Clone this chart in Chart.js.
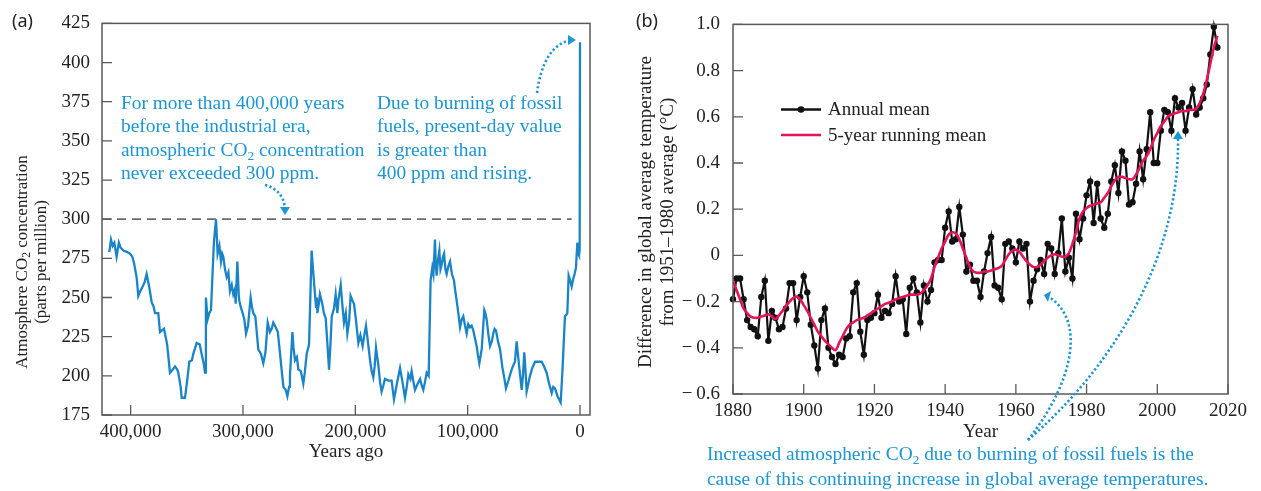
<!DOCTYPE html>
<html>
<head>
<meta charset="utf-8">
<script src="https://cdn.jsdelivr.net/npm/chart.js@4.4.1/dist/chart.umd.min.js"></script>
<style>
    body { margin: 0; width: 1261px; height: 491px; position: relative; background: #fff; overflow: hidden; font-family: "Liberation Serif", serif; color: #222; }
    canvas { position: absolute; top: 0; }
    #co2 { left: 0; }
    #temp { left: 620px; }
    .note { position: absolute; color: #1b95d3; font-size: 19.4px; line-height: 23.3px; white-space: nowrap; }
    .ytitle { position: absolute; text-align: center; white-space: nowrap; transform: translate(-50%, -50%) rotate(-90deg); }
    .panel { position: absolute; font-family: "Noto Sans", sans-serif; font-size: 18px; color: #222; }
    .legend { position: absolute; font-size: 19px; line-height: 22px; white-space: nowrap; }
    sub { font-size: 0.68em; vertical-align: -0.3em; line-height: 0; }
    svg { position: absolute; left: 0; top: 0; }
</style>
</head>
<body>
<canvas id="co2" width="620" height="491"></canvas>
<canvas id="temp" width="641" height="491"></canvas>

<div class="panel" style="left:12px; top:8px;">(a)</div>
<div class="panel" style="left:636px; top:8px;">(b)</div>

<div class="ytitle" style="left:31px; top:262px; font-size:17px; line-height:19px;">Atmosphere CO<sub>2</sub> concentration<br>(parts per million)</div>
<div class="ytitle" style="left:656px; top:212px; font-size:19px; line-height:22px;">Difference in global average temperature<br>from 1951–1980 average (°C)</div>

<div class="note" style="left:121px; top:91px;">For more than 400,000 years<br>before the industrial era,<br>atmospheric CO<sub>2</sub> concentration<br>never exceeded 300 ppm.</div>
<div class="note" style="left:377px; top:91px;">Due to burning of fossil<br>fuels, present-day value<br>is greater than<br>400 ppm and rising.</div>
<div class="note" style="left:707px; top:441px; line-height:25px;">Increased atmospheric CO<sub>2</sub> due to burning of fossil fuels is the<br>cause of this continuing increase in global average temperatures.</div>

<div class="legend" style="left:828px; top:98px;">Annual mean</div>
<div class="legend" style="left:828px; top:124px;">5-year running mean</div>

<svg width="1261" height="491">
    <g fill="none" stroke="#1b95d3" stroke-width="2.6" stroke-dasharray="2.2 2.4">
        <path d="M265,185 Q283,190 285,208"/>
        <path d="M537,93 Q543,47 570,40"/>
        <path d="M1028,440 C1075,380 1085,320 1049,297"/>
        <path d="M1028,440 C1110,370 1180,260 1178,138"/>
    </g>
    <g fill="#1b95d3">
        <path d="M280,207 L290,207 L285,215 Z"/>
        <path d="M568,35 L576,40 L568,45 Z"/>
        <path d="M1051,291 L1044,295 L1048,302 Z"/>
        <path d="M1173,139 L1183,139 L1178,131 Z"/>
    </g>
    <line x1="781" y1="109.5" x2="821" y2="109.5" stroke="#111" stroke-width="2.5"/>
    <circle cx="801" cy="109.5" r="3.3" fill="#111"/>
    <line x1="781" y1="135" x2="821" y2="135" stroke="#e4145c" stroke-width="2.5"/>
</svg>

<script>
// (a) ice core CO2, years before present
const co2YearsAgo = [
    419000, 417500, 416000, 414500, 412500, 410500, 409000, 406500, 403000, 400600,
    398500, 397000, 394700, 393200, 391500, 390000, 387500, 385800, 383500, 381300,
    379500, 378300, 375400, 373900, 370300, 367500, 365000, 362500, 360500, 358500,
    357600, 355500, 354600, 351600, 349500, 347800, 345500, 344200, 341200, 338500,
    336800, 335000, 333800, 333000, 331500, 330000, 328500, 326500, 325800, 324000,
    322600, 321000, 319600, 318500, 317500, 316000, 314500, 313000, 311600, 310000,
    308600, 307300, 306500, 305000, 303800, 303300, 302000, 300300, 298800, 297300,
    295500, 293200, 292000, 290800, 289000, 286400, 284000, 281900, 280000, 278000,
    276000, 274500, 273000, 271500, 269000, 267000, 265500, 264000, 262000, 260500,
    259000, 258200, 256000, 255000, 253700, 252000, 250700, 248500, 246300, 245000,
    243300, 241200, 238900, 237000, 235000, 234300, 233800, 232500, 231500, 229400,
    228000, 226400, 225000, 223400, 222000, 221000, 219000, 217500, 216000, 215100,
    213000, 211500, 210100, 208500, 207100, 205500, 204200, 202500, 201200, 199500,
    197300, 195500, 193500, 192000, 190500, 188500, 186900, 185500, 184000, 182800,
    181600, 180500, 179500, 178000, 176600, 175000, 173600, 170500, 167700, 165600,
    163000, 160200, 158000, 155800, 154000, 152800, 151000, 149900, 148500, 146900,
    144500, 142400, 141000, 139500, 138000, 136500, 134700, 133000, 131500, 130500,
    129100, 128300, 127600, 126400, 125200, 124200, 123100, 122000, 121000, 119800,
    118700, 117200, 115700, 114000, 112200, 111000, 109800, 108300, 106800, 105300,
    103900, 102300, 100900, 99500, 97900, 96500, 95000, 93500, 92000, 90800,
    89600, 87500, 85200, 84200, 83100, 81500, 80100, 78500, 77200, 76000,
    74800, 73000, 71200, 69000, 67500, 65900, 63700, 61700, 59800, 57900,
    56400, 54000, 51900, 50800, 49600, 48500, 47500, 46000, 44500, 42500,
    40000, 37000, 34100, 32000, 29700, 27500, 25200, 23800, 22300, 20000,
    17200, 15500, 13400, 12200, 11300, 10100, 8800, 7400, 6000, 4800,
    3600, 2400, 1500, 900, 300, 0
];
const co2Ppm = [
    279, 287, 283, 285, 276, 285, 282, 280, 279, 278,
    276, 272, 263, 251, 254, 256, 260, 265, 257, 247,
    244, 240, 240, 228, 230, 220, 202, 204, 206, 204,
    202, 193, 186, 186, 198, 209, 210, 214, 221, 220,
    214, 208, 202, 250, 236, 240, 242, 275, 286, 300,
    278, 283, 273, 278, 276, 268, 263, 266, 254, 258,
    252, 255, 246, 273, 252, 248, 244, 240, 236, 227,
    232, 250, 244, 240, 238, 217, 214, 208, 215, 234,
    228, 230, 234, 232, 228, 214, 203, 193, 191, 187,
    193, 200, 228, 218, 210, 212, 204, 203, 195, 202,
    214, 220, 280, 262, 244, 250, 240, 246, 252, 246,
    240, 237, 222, 204, 222, 238, 243, 252, 240, 248,
    258, 245, 234, 240, 227, 235, 251, 248, 246, 236,
    221, 226, 219, 226, 232, 220, 210, 203, 199, 206,
    218, 212, 207, 196, 190, 194, 198, 197, 197, 185,
    195, 205, 196, 186, 194, 201, 198, 203, 197, 191,
    195, 198, 194, 191, 196, 202, 200, 261, 269, 265,
    287, 270, 264, 274, 280, 268, 271, 276, 278, 268,
    265, 270, 273, 265, 261, 254, 248, 240, 231, 236,
    238, 232, 227, 233, 231, 232, 229, 224, 219, 213,
    208, 217, 242, 240, 236, 226, 219, 222, 227, 230,
    229, 222, 217, 205, 199, 192, 197, 202, 206, 209,
    222, 205, 191, 200, 215, 203, 190, 195, 200, 205,
    209, 209, 209, 206, 202, 195, 189, 193, 192, 187,
    183, 205, 238, 239, 240, 264, 261, 257, 262, 265,
    269, 285, 278, 277, 280, 413
];
const co2Limit = 300;
const co2Ticks = [400000, 300000, 200000, 100000, 0];

// (b) global temperature anomaly vs 1951-1980
const tempYears = [
    1880, 1881, 1882, 1883, 1884, 1885, 1886, 1887, 1888, 1889,
    1890, 1891, 1892, 1893, 1894, 1895, 1896, 1897, 1898, 1899,
    1900, 1901, 1902, 1903, 1904, 1905, 1906, 1907, 1908, 1909,
    1910, 1911, 1912, 1913, 1914, 1915, 1916, 1917, 1918, 1919,
    1920, 1921, 1922, 1923, 1924, 1925, 1926, 1927, 1928, 1929,
    1930, 1931, 1932, 1933, 1934, 1935, 1936, 1937, 1938, 1939,
    1940, 1941, 1942, 1943, 1944, 1945, 1946, 1947, 1948, 1949,
    1950, 1951, 1952, 1953, 1954, 1955, 1956, 1957, 1958, 1959,
    1960, 1961, 1962, 1963, 1964, 1965, 1966, 1967, 1968, 1969,
    1970, 1971, 1972, 1973, 1974, 1975, 1976, 1977, 1978, 1979,
    1980, 1981, 1982, 1983, 1984, 1985, 1986, 1987, 1988, 1989,
    1990, 1991, 1992, 1993, 1994, 1995, 1996, 1997, 1998, 1999,
    2000, 2001, 2002, 2003, 2004, 2005, 2006, 2007, 2008, 2009,
    2010, 2011, 2012, 2013, 2014, 2015, 2016, 2017
];
const annualMean = [
    -0.19, -0.10, -0.10, -0.19, -0.28, -0.31, -0.32, -0.35, -0.18, -0.11,
    -0.37, -0.24, -0.27, -0.32, -0.31, -0.23, -0.12, -0.12, -0.28, -0.18,
    -0.09, -0.16, -0.30, -0.39, -0.49, -0.28, -0.23, -0.40, -0.44, -0.47,
    -0.43, -0.44, -0.36, -0.35, -0.16, -0.12, -0.33, -0.43, -0.28, -0.27,
    -0.25, -0.17, -0.27, -0.24, -0.25, -0.21, -0.09, -0.20, -0.19, -0.34,
    -0.14, -0.10, -0.16, -0.29, -0.13, -0.20, -0.15, -0.03, -0.02, -0.02,
    0.12, 0.19, 0.06, 0.07, 0.21, 0.09, -0.07, -0.04, -0.11, -0.11,
    -0.18, -0.07, 0.01, 0.08, -0.13, -0.14, -0.19, 0.05, 0.06, 0.03,
    -0.03, 0.06, 0.03, 0.05, -0.20, -0.11, -0.06, -0.02, -0.08, 0.05,
    0.03, -0.08, 0.01, 0.16, -0.07, -0.01, -0.10, 0.18, 0.07, 0.16,
    0.26, 0.32, 0.14, 0.31, 0.16, 0.12, 0.18, 0.32, 0.39, 0.27,
    0.45, 0.41, 0.22, 0.23, 0.31, 0.45, 0.33, 0.46, 0.62, 0.40,
    0.40, 0.54, 0.63, 0.62, 0.54, 0.68, 0.64, 0.66, 0.54, 0.64,
    0.72, 0.61, 0.64, 0.68, 0.74, 0.87, 0.99, 0.90
];
const runningMean = [
    -0.11, -0.15, -0.19, -0.23, -0.25, -0.265, -0.27, -0.27, -0.265, -0.26,
    -0.255, -0.265, -0.275, -0.26, -0.24, -0.22, -0.20, -0.185, -0.178, -0.19,
    -0.215, -0.24, -0.27, -0.30, -0.33, -0.35, -0.37, -0.385, -0.40, -0.41,
    -0.38, -0.35, -0.32, -0.30, -0.29, -0.28, -0.275, -0.27, -0.26, -0.25,
    -0.24, -0.23, -0.22, -0.21, -0.205, -0.20, -0.19, -0.185, -0.18, -0.175,
    -0.17, -0.17, -0.17, -0.165, -0.15, -0.13, -0.10, -0.05, -0.01, 0.03,
    0.06, 0.09, 0.10, 0.095, 0.07, 0.03, -0.01, -0.05, -0.07, -0.075,
    -0.075, -0.07, -0.07, -0.065, -0.06, -0.055, -0.045, -0.02, 0.005, 0.02,
    0.025, 0.015, -0.005, -0.025, -0.04, -0.05, -0.05, -0.04, -0.025, -0.01,
    0.0, 0.005, 0.0, -0.005, -0.005, 0.01, 0.05, 0.10, 0.16, 0.19,
    0.205, 0.215, 0.22, 0.225, 0.23, 0.25, 0.27, 0.30, 0.325, 0.34,
    0.34, 0.335, 0.33, 0.33, 0.35, 0.38, 0.41, 0.43, 0.46, 0.50,
    0.53, 0.56, 0.58, 0.60, 0.61, 0.615, 0.62, 0.625, 0.625, 0.63,
    0.63, 0.635, 0.66, 0.70, 0.76, 0.83, 0.90, 0.95
];

Chart.defaults.font.family = '"Liberation Serif", serif';
Chart.defaults.font.size = 19;
Chart.defaults.color = '#222';
Chart.defaults.animation = false;

// frame round the plot and ticks pointing inwards
const marco = {
    id: 'marco',
    afterDraw(chart) {
        const { ctx, chartArea: a } = chart;
        const sx = chart.scales.x, sy = chart.scales.y;
        ctx.save();
        ctx.strokeStyle = '#5a5a5a';
        ctx.lineWidth = 1.5;
        ctx.strokeRect(a.left, a.top, a.right - a.left, a.bottom - a.top);
        ctx.lineWidth = 1.3;
        ctx.beginPath();
        sx.ticks.forEach(t => {
            const px = sx.getPixelForValue(t.value);
            ctx.moveTo(px, a.bottom);
            ctx.lineTo(px, a.bottom - 10);
        });
        sy.ticks.forEach(t => {
            const py = sy.getPixelForValue(t.value);
            ctx.moveTo(a.left, py);
            ctx.lineTo(a.left + 10, py);
        });
        ctx.stroke();
        ctx.restore();
    }
};

function ejeBase(width) {
    return {
        grid: { display: false, drawTicks: false },
        border: { display: false },
        afterFit: s => { s.width = width; }
    };
}

function crearCo2() {
    const puntos = co2YearsAgo.map((x, i) => ({ x: x, y: co2Ppm[i] }));
    const limite = [{ x: 425500, y: co2Limit }, { x: 7400, y: co2Limit }];

    new Chart(document.getElementById('co2'), {
        type: 'line',
        data: {
            datasets: [
                { data: puntos, borderColor: '#1a84c7', borderWidth: 2.3, pointRadius: 0, tension: 0, order: 0 },
                { data: limite, borderColor: '#6b6b6b', borderWidth: 1.8, borderDash: [9, 6], pointRadius: 0, order: 1 }
            ]
        },
        options: {
            responsive: false,
            layout: { padding: { left: 0, top: 20, right: 30, bottom: 0 } },
            plugins: { legend: { display: false }, tooltip: { enabled: false } },
            scales: {
                x: {
                    type: 'linear',
                    reverse: true,
                    min: -8900,
                    max: 425500,
                    grid: { display: false, drawTicks: false },
                    border: { display: false },
                    afterBuildTicks: s => { s.ticks = co2Ticks.map(v => ({ value: v })); },
                    afterFit: s => { s.height = 76; },
                    ticks: { padding: 6, maxRotation: 0, callback: v => v.toLocaleString('en-US') },
                    title: { display: true, text: 'Years ago', padding: { top: 0, bottom: 28 } }
                },
                y: Object.assign(ejeBase(102), {
                    min: 175,
                    max: 425,
                    ticks: { stepSize: 25, padding: 12 }
                })
            }
        },
        plugins: [marco]
    });
}

function crearTemp() {
    const anual = tempYears.map((x, i) => ({ x: x, y: annualMean[i] }));
    const media = tempYears.map((x, i) => ({ x: x, y: runningMean[i] }));

    new Chart(document.getElementById('temp'), {
        type: 'line',
        data: {
            datasets: [
                { label: '5-year running mean', data: media, borderColor: '#e4145c', borderWidth: 2.6, pointRadius: 0, tension: 0.4, order: 0 },
                { label: 'Annual mean', data: anual, borderColor: '#111', backgroundColor: '#111', borderWidth: 2.2,
                  pointRadius: 3.2, pointBorderWidth: 0, pointBackgroundColor: '#111', tension: 0, clip: false, order: 1 }
            ]
        },
        options: {
            responsive: false,
            layout: { padding: { left: 0, top: 21, right: 33, bottom: 0 } },
            plugins: { legend: { display: false }, tooltip: { enabled: false } },
            scales: {
                x: {
                    type: 'linear',
                    min: 1880,
                    max: 2020,
                    grid: { display: false, drawTicks: false },
                    border: { display: false },
                    afterFit: s => { s.height = 97; },
                    ticks: { stepSize: 20, padding: 6, maxRotation: 0, callback: v => String(v) },
                    title: { display: true, text: 'Year', padding: { top: 0, bottom: 48 } }
                },
                y: Object.assign(ejeBase(113), {
                    min: -0.6,
                    max: 1.0,
                    ticks: {
                        stepSize: 0.2,
                        padding: 13,
                        callback: v => {
                            const r = Math.round(v * 10) / 10;
                            if (r === 0) return '0';
                            return r < 0 ? '\u2212\u2009' + Math.abs(r).toFixed(1) : r.toFixed(1);
                        }
                    }
                })
            }
        },
        plugins: [marco]
    });
}

document.addEventListener('DOMContentLoaded', () => {
    crearCo2();
    crearTemp();
});
</script>
</body>
</html>
